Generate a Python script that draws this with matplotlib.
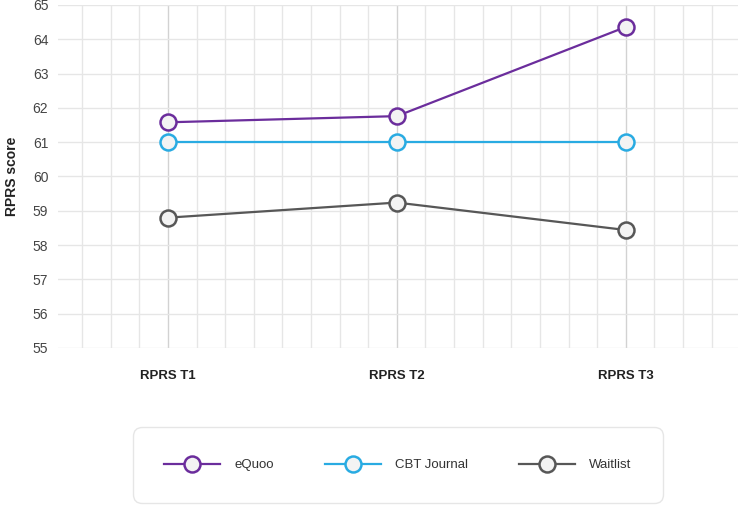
import numpy as np
import matplotlib
matplotlib.use("Agg")
import matplotlib.pyplot as plt

plt.rcParams['font.family'] = ['Liberation Sans', 'DejaVu Sans']

# Datos
categorias = ['RPRS T1', 'RPRS T2', 'RPRS T3']
equoo = [61.58, 61.76, 64.36]
cbt = [61.0, 61.0, 61.0]
waitlist = [58.80, 59.24, 58.44]

series = ['eQuoo', 'CBT Journal', 'Waitlist']
colores = ['#6b2d9c', '#29abe2', '#575757']

fig = plt.figure(figsize=(7.4, 5.05), dpi=100)
ax = fig.add_axes([58 / 740, 1 - 348 / 505, 680 / 740, 343 / 505])

x = np.arange(len(categorias))
for nombre, valores, color in zip(series, [equoo, cbt, waitlist], colores):
    ax.plot(x, valores, color=color, lw=1.6, marker='o', ms=11.5,
            mfc='#f3f3f3', mec=color, mew=1.8, label=nombre, zorder=3)

ax.set_xlim(-0.48, 2.49)
ax.set_ylim(55, 65)
ax.set_yticks(np.arange(55, 66, 1))
ax.set_xticks(x)
ax.set_xticklabels(categorias, fontsize=9.5, fontweight='bold', color='#222222')
ax.set_xticks(np.arange(-0.375, 2.49, 0.125), minor=True)
ax.tick_params(axis='y', length=0, labelsize=10, labelcolor='#444444', pad=7)
ax.tick_params(axis='x', which='both', length=0, pad=16)

ax.grid(axis='y', color='#e6e6e6', lw=1)
ax.grid(axis='x', which='minor', color='#e6e6e6', lw=1)
ax.grid(axis='x', which='major', color='#d2d2d2', lw=1)
ax.set_axisbelow(True)
for s in ax.spines.values():
    s.set_visible(False)

ax.set_ylabel('RPRS score', fontsize=10, fontweight='bold', color='#222222', labelpad=10)

leg = fig.legend(loc='center', bbox_to_anchor=(126 / 740, 1 - 504 / 505, 544 / 740, 78 / 505),
                 mode='expand', ncol=3, frameon=True, fancybox=True, fontsize=9.5,
                 handlelength=4.2, handletextpad=1.1, borderpad=2.4,
                 labelcolor='#333333')
leg.get_frame().set_edgecolor('#e0e0e0')
leg.get_frame().set_linewidth(1)
leg.get_frame().set_boxstyle('round,pad=0,rounding_size=0.7')

fig.savefig('out.png', dpi=100)
